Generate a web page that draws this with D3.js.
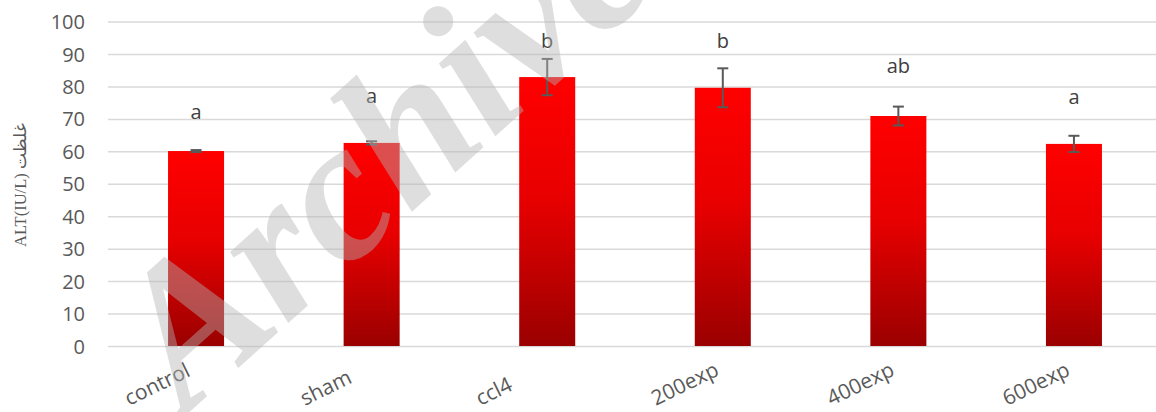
<!DOCTYPE html>
<html>
<head>
<meta charset="utf-8">
<script src="https://cdn.jsdelivr.net/npm/d3@7"></script>
<style>
  html, body { margin: 0; padding: 0; background: #fff; }
  svg { display: block; }
</style>
</head>
<body>
<svg id="chart" width="1156" height="412"></svg>
<script>
// Groups and serum ALT (IU/L), mean ± error
const categories = ["control", "sham", "ccl4", "200exp", "400exp", "600exp"];
const means      = [60.1, 62.6, 82.9, 79.6, 70.9, 62.3];
const errors     = [0.3, 0.5, 5.6, 6.0, 2.9, 2.5];
// Significance letters and the level (axis units) each one sits at
const letters    = ["a", "a", "b", "b", "ab", "a"];
const letterAt   = [70, 75, 92, 92, 84.2, 74.6];
const yTicks     = [0, 10, 20, 30, 40, 50, 60, 70, 80, 90, 100];
const yTitle     = "ALT(IU/L) غلظت";

const svg = d3.select("#chart");
const W = 1156;

const x = d3.scaleBand()
  .domain(categories)
  .range([108, 1162])
  .paddingInner(0.681)
  .paddingOuter(0.342);

const y = d3.scaleLinear().domain([0, 100]).range([346, 21.6]);

// bar fill: bright red fading to dark red toward the base
const defs = svg.append("defs");
const grad = defs.append("linearGradient")
  .attr("id", "barFill")
  .attr("x1", 0).attr("y1", 0).attr("x2", 0).attr("y2", 1);
grad.append("stop").attr("offset", "0%").attr("stop-color", "#ff0000");
grad.append("stop").attr("offset", "45%").attr("stop-color", "#e80000");
grad.append("stop").attr("offset", "100%").attr("stop-color", "#9a0000");

// horizontal gridlines
const yAxis = d3.axisLeft(y).tickValues(yTicks).tickSize(-(W - 108)).tickFormat(d3.format("d"));
const gy = svg.append("g").attr("transform", "translate(108,0)").call(yAxis);
gy.select(".domain").remove();
gy.selectAll(".tick line").attr("stroke", "#d9d9d9").attr("stroke-width", 1.5);
gy.selectAll(".tick text")
  .attr("x", -23)
  .attr("fill", "#595959")
  .attr("font-family", "'Open Sans', sans-serif")
  .attr("font-size", 20)
  .attr("dy", "0.35em");

// bars
svg.append("g").selectAll("rect")
  .data(categories)
  .join("rect")
  .attr("x", d => x(d))
  .attr("y", (d, i) => y(means[i]))
  .attr("width", x.bandwidth())
  .attr("height", (d, i) => y(0) - y(means[i]))
  .attr("fill", "url(#barFill)");

// error bars
const eb = svg.append("g").attr("stroke", "#595959").attr("stroke-width", 2).attr("fill", "none");
categories.forEach((c, i) => {
  const cx = x(c) + x.bandwidth() / 2;
  const top = y(means[i] + errors[i]);
  const bot = y(means[i] - errors[i]);
  eb.append("line").attr("x1", cx).attr("x2", cx).attr("y1", top).attr("y2", bot);
  eb.append("line").attr("x1", cx - 5.5).attr("x2", cx + 5.5).attr("y1", top).attr("y2", top);
  eb.append("line").attr("x1", cx - 5.5).attr("x2", cx + 5.5).attr("y1", bot).attr("y2", bot);
});

// significance letters
svg.append("g").selectAll("text")
  .data(categories)
  .join("text")
  .attr("x", d => x(d) + x.bandwidth() / 2)
  .attr("y", (d, i) => y(letterAt[i]))
  .attr("text-anchor", "middle")
  .attr("font-family", "'Open Sans', sans-serif")
  .attr("font-size", 20)
  .attr("fill", "#404040")
  .text((d, i) => letters[i]);

// category labels, slanted
svg.append("g").selectAll("text")
  .data(categories)
  .join("text")
  .attr("transform", d => `translate(${x(d) + x.bandwidth() / 2 - 67},406) rotate(-26)`)
  .attr("font-family", "'Open Sans', sans-serif")
  .attr("font-size", 21)
  .attr("fill", "#595959")
  .text(d => d);

// axis title
svg.append("text")
  .attr("transform", "translate(26,185) rotate(-90)")
  .attr("text-anchor", "middle")
  .attr("font-family", "'Liberation Serif', 'Times New Roman', serif")
  .attr("font-size", 16.5)
  .attr("fill", "#595959")
  .text(yTitle);

// watermark
svg.append("text")
  .attr("transform", "translate(186,415) rotate(-42)")
  .attr("font-family", "'Liberation Serif', 'Times New Roman', serif")
  .attr("font-weight", "bold")
  .attr("font-style", "italic")
  .attr("font-size", 200)
  .attr("fill", "rgb(180,180,180)")
  .attr("fill-opacity", 0.44)
  .text("Archive");
</script>
</body>
</html>
